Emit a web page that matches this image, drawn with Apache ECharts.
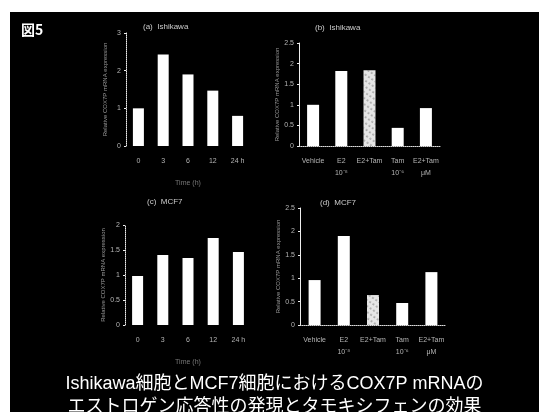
<!DOCTYPE html>
<html>
<head>
<meta charset="utf-8">
<script src="https://cdn.jsdelivr.net/npm/echarts@6/dist/echarts.min.js"></script>
<style>
  html, body { margin: 0; padding: 0; background: #fff; }
  #fig { position: absolute; left: 10px; top: 12px; width: 529px; height: 400px; background: #000; }
</style>
</head>
<body>
<div id="fig"></div>
<script>
var timeLabels = ['0', '3', '6', '12', '24 h'];
var treatLabels = ['Vehicle', 'E2\n10⁻⁸', 'E2+Tam', 'Tam\n10⁻⁶', 'E2+Tam\nμM'];

// relative COX7P mRNA
var ishikawaTime = [1.0, 2.43, 1.9, 1.47, 0.8];
var ishikawaTreat = [1.0, 1.82, 1.84, 0.44, 0.92];
var mcf7Time = [0.98, 1.4, 1.34, 1.74, 1.46];
var mcf7Treat = [0.96, 1.9, 0.64, 0.47, 1.13];
var stippledBar = 2; // E2+Tam bar is drawn speckled

var panelTitles = ['(a)  Ishikawa', '(b)  Ishikawa', '(c)  MCF7', '(d)  MCF7'];
var yTitle = 'Relative COX7P mRNA expression';

var myChart = echarts.init(document.getElementById('fig'));

var dim = '#b5b5b5';
var grids = [
  { left: 116, top: 21, width: 124, height: 113 },
  { left: 289, top: 31, width: 141, height: 103 },
  { left: 115, top: 213, width: 126, height: 100 },
  { left: 290, top: 196, width: 146, height: 117 }
];

function xAx(idx, labels, name, dotted) {
  return {
    type: 'category', gridIndex: idx, data: labels,
    name: name, nameLocation: 'middle', nameGap: 34,
    nameTextStyle: { color: '#777', fontSize: 7 },
    axisLine: { show: dotted, lineStyle: { color: '#ddd', type: 'dotted', width: 1 } },
    axisTick: { show: false },
    axisLabel: { color: dim, fontSize: 7, interval: 0, margin: 9, lineHeight: 12 }
  };
}
function yAx(idx, max, interval, dotted) {
  return {
    type: 'value', gridIndex: idx, min: 0, max: max, interval: interval,
    name: yTitle, nameLocation: 'middle', nameGap: 18,
    nameTextStyle: { color: '#999', fontSize: 6 },
    splitLine: { show: false },
    axisLine: { show: true, lineStyle: { color: '#eee', type: dotted ? 'dotted' : 'solid', width: 1 } },
    axisTick: { show: true, length: 2, lineStyle: { color: '#eee' } },
    axisLabel: { color: dim, fontSize: 7, margin: 5 }
  };
}
function barData(vals, speckle) {
  return vals.map(function (v, i) {
    if (speckle && i === stippledBar) {
      return { value: v, itemStyle: { color: '#e6e6e6',
        decal: { symbol: 'circle', symbolSize: 0.6, color: '#000', dashArrayX: [2, 2], dashArrayY: [2, 3], rotation: 0.6 } } };
    }
    return v;
  });
}
function bars(idx, vals, width, speckle) {
  return {
    type: 'bar', xAxisIndex: idx, yAxisIndex: idx, barWidth: width,
    itemStyle: { color: '#fff' }, data: barData(vals, speckle), animation: false
  };
}

var titles = [
  { text: '図5', left: 6, top: 6, textStyle: { color: '#fff', fontSize: 14, fontWeight: 'bold', fontFamily: 'Noto Sans CJK JP' } },
  { text: 'Ishikawa細胞とMCF7細胞におけるCOX7P mRNAの\nエストロゲン応答性の発現とタモキシフェンの効果',
    left: 'center', top: 356,
    textStyle: { color: '#fff', fontSize: 18, fontWeight: 'normal', lineHeight: 23,
      fontFamily: '"Liberation Sans", "Noto Sans CJK JP", sans-serif' } }
];
var titlePos = [[128, 6], [300, 7], [132, 181], [305, 182]];
panelTitles.forEach(function (t, i) {
  titles.push({ text: t, left: titlePos[i][0], top: titlePos[i][1],
    textStyle: { color: '#ccc', fontSize: 8, fontWeight: 'normal' } });
});

var option = {
  backgroundColor: '#000',
  title: titles,
  grid: grids,
  xAxis: [
    xAx(0, timeLabels, 'Time (h)', false),
    xAx(1, treatLabels, '', true),
    xAx(2, timeLabels, 'Time (h)', false),
    xAx(3, treatLabels, '', true)
  ],
  yAxis: [
    yAx(0, 3, 1, true),
    yAx(1, 2.5, 0.5, false),
    yAx(2, 2, 0.5, true),
    yAx(3, 2.5, 0.5, false)
  ],
  series: [
    bars(0, ishikawaTime, 11, false),
    bars(1, ishikawaTreat, 12, true),
    bars(2, mcf7Time, 11, false),
    bars(3, mcf7Treat, 12, true)
  ]
};
myChart.setOption(option);
</script>
</body>
</html>
